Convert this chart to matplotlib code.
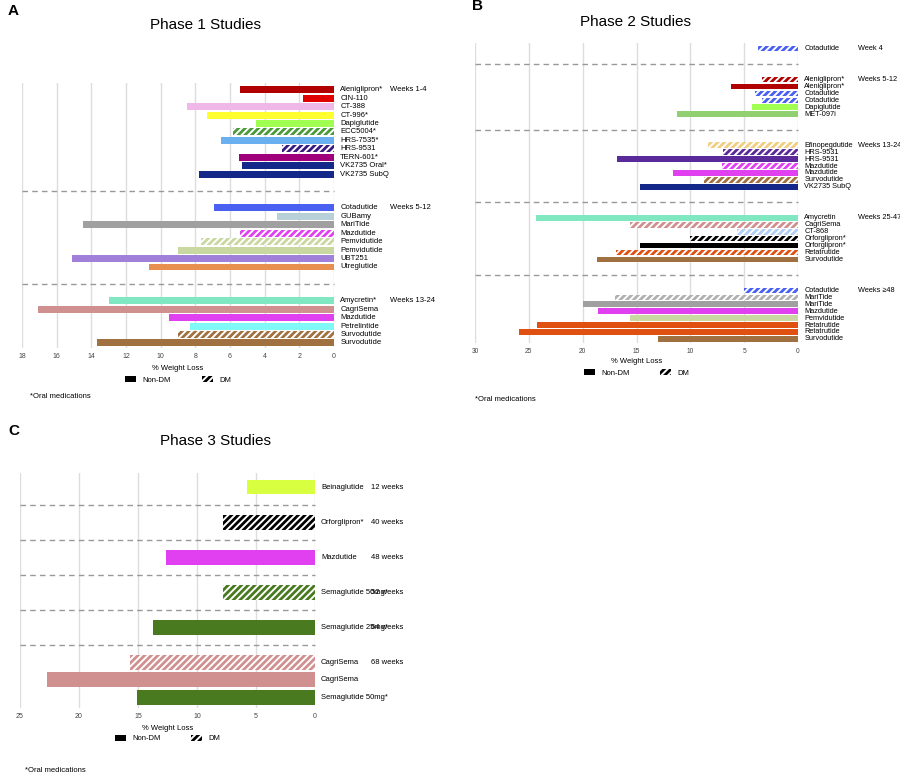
import matplotlib.pyplot as plt
from matplotlib.patches import Patch
from matplotlib.transforms import blended_transform_factory

plt.rcParams['font.family'] = ['Liberation Sans', 'DejaVu Sans']
plt.rcParams['hatch.linewidth'] = 2.0

# ---- Phase 1 ----
p1_groups = ['Weeks 1-4', 'Weeks 5-12', 'Weeks 13-24']
p1_names = [
    ['Aleniglipron*', 'CIN-110', 'CT-388', 'CT-996*', 'Dapiglutide', 'ECC5004*', 'HRS-7535*',
     'HRS-9531', 'TERN-601*', 'VK2735 Oral*', 'VK2735 SubQ'],
    ['Cotadutide', 'GUBamy', 'MariTide', 'Mazdutide', 'Pemvidutide', 'Pemvidutide', 'UBT251', 'Utreglutide'],
    ['Amycretin*', 'CagriSema', 'Mazdutide', 'Petrelintide', 'Survodutide', 'Survodutide'],
]
p1_values = [
    [5.4, 1.8, 8.5, 7.3, 4.5, 5.8, 6.5, 3.0, 5.5, 5.3, 7.8],
    [6.9, 3.3, 14.5, 5.4, 7.7, 9.0, 15.1, 10.7],
    [13.0, 17.1, 9.5, 8.3, 9.0, 13.7],
]
p1_dm = [
    [0, 0, 0, 0, 0, 1, 0, 1, 0, 0, 0],
    [0, 0, 0, 1, 1, 0, 0, 0],
    [0, 0, 0, 0, 1, 0],
]
p1_colors = [
    ['#b00000', '#e00000', '#f0b8e8', '#ffff30', '#a0ff50', '#4a9a3a', '#6ab0f0',
     '#3a1a80', '#a0007a', '#14288a', '#14288a'],
    ['#4a60f0', '#b8d0d8', '#a0a0a0', '#e040f0', '#c8d8a0', '#c8d8a0', '#a080d8', '#e89050'],
    ['#80e8c0', '#d09090', '#e040f0', '#80f8f8', '#a07040', '#a07040'],
]

# ---- Phase 2 ----
p2_groups = ['Week 4', 'Weeks 5-12', 'Weeks 13-24', 'Weeks 25-47', 'Weeks \u226548']
p2_names = [
    ['Cotadutide'],
    ['Aleniglipron*', 'Aleniglipron*', 'Cotadutide', 'Cotadutide', 'Dapiglutide', 'MET-097i'],
    ['Efinopegdutide', 'HRS-9531', 'HRS-9531', 'Mazdutide', 'Mazdutide', 'Survodutide', 'VK2735 SubQ'],
    ['Amycretin', 'CagriSema', 'CT-868', 'Orforglipron*', 'Orforglipron*', 'Retatrutide', 'Survodutide'],
    ['Cotadutide', 'MariTide', 'MariTide', 'Mazdutide', 'Pemvidutide', 'Retatrutide', 'Retatrutide', 'Survodutide'],
]
p2_values = [
    [3.7],
    [3.3, 6.2, 4.0, 3.3, 4.3, 11.2],
    [8.4, 7.0, 16.8, 7.1, 11.6, 8.7, 14.7],
    [24.3, 15.6, 5.7, 10.0, 14.7, 16.9, 18.7],
    [5.0, 17.0, 20.0, 18.6, 15.6, 24.2, 25.9, 13.0],
]
p2_dm = [
    [1],
    [1, 0, 1, 1, 0, 0],
    [1, 1, 0, 1, 0, 1, 0],
    [0, 1, 1, 1, 0, 1, 0],
    [1, 1, 0, 0, 0, 0, 0, 0],
]
p2_colors = [
    ['#4a60f0'],
    ['#b00000', '#b00000', '#4a60f0', '#4a60f0', '#a0ff50', '#90d070'],
    ['#f0d080', '#5a2a9a', '#5a2a9a', '#e040f0', '#e040f0', '#a07040', '#14288a'],
    ['#80e8c0', '#d09090', '#b0d0f8', '#000000', '#000000', '#e05010', '#a07040'],
    ['#4a60f0', '#b0b0b0', '#a0a0a0', '#e040f0', '#c8d8a0', '#e05010', '#e05010', '#a07040'],
]

# ---- Phase 3 ----
p3_groups = ['12 weeks', '40 weeks', '48 weeks', '52 weeks', '64 weeks', '68 weeks']
p3_names = [['Beinaglutide'], ['Orforglipron*'], ['Mazdutide'], ['Semaglutide 50mg*'],
            ['Semaglutide 25mg*'], ['CagriSema', 'CagriSema', 'Semaglutide 50mg*']]
p3_values = [[5.8], [7.8], [12.6], [7.8], [13.7], [15.7, 22.7, 15.1]]
p3_dm = [[0], [1], [0], [1], [0], [1, 0, 0]]
p3_colors = [['#d8ff40'], ['#000000'], ['#e040f0'], ['#4a7a20'], ['#4a7a20'],
             ['#d09090', '#d09090', '#4a7a20']]


def draw_panel(ax, groups, names, values, dm, colors, xmax, step, gap, height, fs, wk_x):
    y = 0
    trans = blended_transform_factory(ax.transAxes, ax.transData)
    for g, label in enumerate(groups):
        if g > 0:
            ax.plot([0, 1], [y + gap / 2 - 0.5, y + gap / 2 - 0.5], transform=trans,
                    color='#999999', ls=(0, (4, 3)), lw=1, clip_on=False)
            y += gap
        ax.text(wk_x, y, label, transform=trans, va='center', ha='left', fontsize=fs)
        for n, v, d, c in zip(names[g], values[g], dm[g], colors[g]):
            if d:
                ax.barh(y, v, height=height, color='white', edgecolor=c, hatch='/////', lw=0)
            else:
                ax.barh(y, v, height=height, color=c)
            ax.text(1.02, y, n, transform=trans, va='center', ha='left', fontsize=fs)
            y += 1
    ax.set_ylim(y - 0.4, -0.8)
    ax.set_xlim(xmax, 0)
    ax.set_xticks(range(0, xmax + 1, step))
    ax.tick_params(axis='x', labelsize=fs - 0.5, length=0, colors='#444444')
    ax.set_yticks([])
    for s in ax.spines.values():
        s.set_visible(False)
    ax.grid(axis='x', color='#dddddd', lw=1)
    ax.set_axisbelow(True)


fig = plt.figure(figsize=(9, 7.76), dpi=100)

ax1 = fig.add_axes([22 / 900, 1 - 348 / 776, 312 / 900, 265 / 776])
draw_panel(ax1, p1_groups, p1_names, p1_values, p1_dm, p1_colors, 18, 2, 3, 0.82, 5.5, 1.18)
ax1.set_xlabel('% Weight Loss', fontsize=5.5)

ax2 = fig.add_axes([475 / 900, 1 - 343 / 776, 323 / 900, 300 / 776])
draw_panel(ax2, p2_groups, p2_names, p2_values, p2_dm, p2_colors, 30, 5, 3.5, 0.82, 5.3, 1.185)
ax2.set_xlabel('% Weight Loss', fontsize=5.5, labelpad=2)

ax3 = fig.add_axes([20 / 900, 1 - 708 / 776, 295 / 900, 235 / 776])
draw_panel(ax3, p3_groups, p3_names, p3_values, p3_dm, p3_colors, 25, 5, 1, 0.85, 5.5, 1.19)
ax3.set_xlabel('% Weight Loss', fontsize=5.5)

for ax, (lx, ly) in [(ax1, (0.5, -0.12)), (ax2, (0.5, -0.1)), (ax3, (0.5, -0.13))]:
    handles = [Patch(facecolor='black'),
               Patch(facecolor='white', edgecolor='black', hatch='/////', lw=0)]
    ax.legend(handles, ['Non-DM', 'DM'], loc='center', bbox_to_anchor=(lx, ly), ncol=2,
              frameon=False, fontsize=5.5, handlelength=1.5, handleheight=0.8, columnspacing=4)

fig.text(205 / 900, 1 - 25 / 776, 'Phase 1 Studies', ha='center', va='center', fontsize=11)
fig.text(636 / 900, 1 - 22 / 776, 'Phase 2 Studies', ha='center', va='center', fontsize=11)
fig.text(215 / 900, 1 - 441 / 776, 'Phase 3 Studies', ha='center', va='center', fontsize=11)
fig.text(8 / 900, 1 - 11 / 776, 'A', fontsize=11, fontweight='bold', va='center')
fig.text(472 / 900, 1 - 6 / 776, 'B', fontsize=11, fontweight='bold', va='center')
fig.text(8 / 900, 1 - 431 / 776, 'C', fontsize=11, fontweight='bold', va='center')
fig.text(30 / 900, 1 - 397 / 776, '*Oral medications', fontsize=5.5, va='center')
fig.text(475 / 900, 1 - 400 / 776, '*Oral medications', fontsize=5.5, va='center')
fig.text(25 / 900, 1 - 771 / 776, '*Oral medications', fontsize=5.5, va='center')

fig.savefig('out.png', dpi=100)
